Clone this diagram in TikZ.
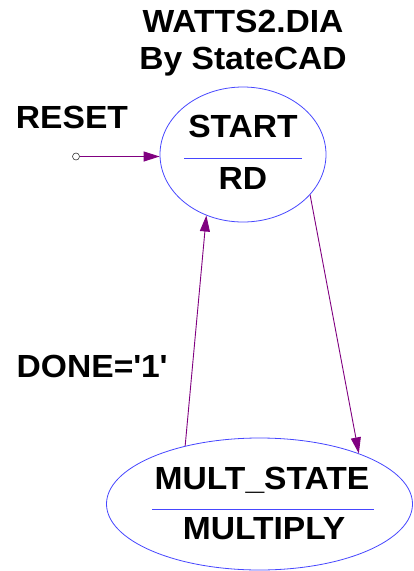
\documentclass[tikz,border=0pt]{standalone}
\usepackage{fontspec}
\setmainfont[FakeStretch=1.05]{Liberation Sans}
\usetikzlibrary{arrows.meta,shapes.geometric}
\definecolor{stateblue}{RGB}{70,70,255}
\definecolor{transpurple}{RGB}{128,0,128}

\begin{document}
\begin{tikzpicture}[x=1pt, y=-1pt,
  state/.style={ellipse, draw=stateblue, line width=0.8pt, inner sep=0pt},
  txt/.style={font=\fontsize{32}{34}\selectfont\bfseries, inner sep=0pt, anchor=base},
  sep/.style={draw=stateblue, line width=0.8pt},
  trans/.style={draw=transpurple, line width=0.9pt,
                -{Triangle[length=16pt, width=10pt]}},
]
  \useasboundingbox (0,0) rectangle (414,571);

  % --- Title ---
  \node[txt] (title) at (243,32) {WATTS2.DIA};
  \node[txt] (tool)  at (243,69) {By StateCAD};

  % --- States ---
  \node[state, minimum width=166pt, minimum height=135pt] (start) at (243,154.5) {};
  \node[txt] (startname) at (243,137) {START};
  \node[txt] (startout)  at (243,189) {RD};
  \draw[sep] (184,158) -- (302,158);

  \node[state, minimum width=306pt, minimum height=132pt] (mult) at (259.5,504) {};
  \node[txt] (multname) at (262,489) {MULT\_STATE};
  \node[txt] (multout)  at (264,539) {MULTIPLY};
  \draw[sep] (152,509) -- (374,509);

  % --- Reset ---
  \node[txt] (reset) at (72,128) {RESET};
  \node[circle, draw=black!80, line width=0.6pt, minimum size=7pt, inner sep=0pt]
    (rst) at (76,156.5) {};
  \draw[trans] (rst) -- (start.west |- rst);

  % --- Transitions ---
  \draw[trans] (start.-31) -- (mult.27);
  \draw[trans] (mult.142) -- (start.239);
  \node[txt] (done) at (92,377) {DONE=\textquotesingle1\textquotesingle};
\end{tikzpicture}
\end{document}
